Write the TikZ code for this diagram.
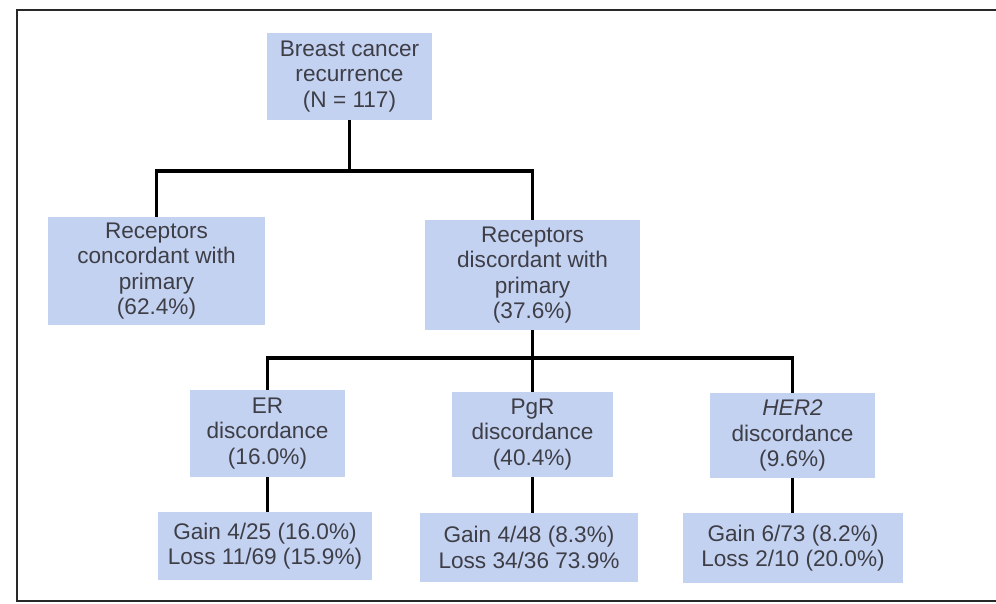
\documentclass[tikz,border=0pt]{standalone}
\usepackage{fontspec}
\setmainfont{Liberation Sans}
\definecolor{boxfill}{RGB}{196,210,242}
\definecolor{txt}{RGB}{62,62,70}
\definecolor{framec}{RGB}{40,40,40}
\begin{document}
\begin{tikzpicture}[x=0.5pt,y=-0.5pt,
  box/.style={rectangle, fill=boxfill, draw=none, align=center, text=txt,
    font=\fontsize{11.3}{12.7}\selectfont, inner sep=0pt},
  conn/.style={line width=1.8pt, draw=black}]
\useasboundingbox (0,0) rectangle (996,604);
\draw[framec, line width=1.4pt] (996,10) -- (17,10) -- (17,601) -- (996,601);

\node[box, minimum width=165*0.5pt, minimum height=87*0.5pt] (top) at (349.5,76.5)
  {Breast cancer\\recurrence\\(N = 117)};
\node[box, minimum width=217*0.5pt, minimum height=108*0.5pt] (conc) at (156.5,271)
  {Receptors\\concordant with\\primary\\(62.4\%)};
\node[box, minimum width=215*0.5pt, minimum height=110*0.5pt] (disc) at (532.5,275)
  {Receptors\\discordant with\\primary\\(37.6\%)};
\node[box, minimum width=155*0.5pt, minimum height=87*0.5pt] (er) at (267.5,433.5)
  {ER\\discordance\\(16.0\%)};
\node[box, minimum width=161*0.5pt, minimum height=85*0.5pt] (pgr) at (532.5,434.5)
  {PgR\\discordance\\(40.4\%)};
\node[box, minimum width=165*0.5pt, minimum height=85*0.5pt] (her) at (792.5,435.5)
  {\textit{HER2}\\discordance\\(9.6\%)};
\node[box, minimum width=214*0.5pt, minimum height=68*0.5pt] (erg) at (265,546)
  {Gain 4/25 (16.0\%)\\Loss 11/69 (15.9\%)};
\node[box, minimum width=218*0.5pt, minimum height=69*0.5pt] (pgrg) at (529,547.5)
  {Gain 4/48 (8.3\%)\\Loss 34/36 73.9\%};
\node[box, minimum width=220*0.5pt, minimum height=70*0.5pt] (herg) at (793,548)
  {Gain 6/73 (8.2\%)\\Loss 2/10 (20.0\%)};

\coordinate (h1) at (349.5,171);
\coordinate (h2) at (532.5,358);
\draw[conn] (top.south) -- (top.south |- h1);
\draw[conn] (conc.north) |- (disc.north |- h1) -- (disc.north);
\draw[conn] (disc.south) -- (disc.south |- h2);
\draw[conn] (er.north) |- (her.north |- h2) -- (her.north);
\draw[conn] (pgr.north) -- (pgr.north |- h2);
\draw[conn] (er.south) -- (er.south |- erg.north);
\draw[conn] (pgr.south) -- (pgr.south |- pgrg.north);
\draw[conn] (her.south) -- (her.south |- herg.north);
\end{tikzpicture}
\end{document}
